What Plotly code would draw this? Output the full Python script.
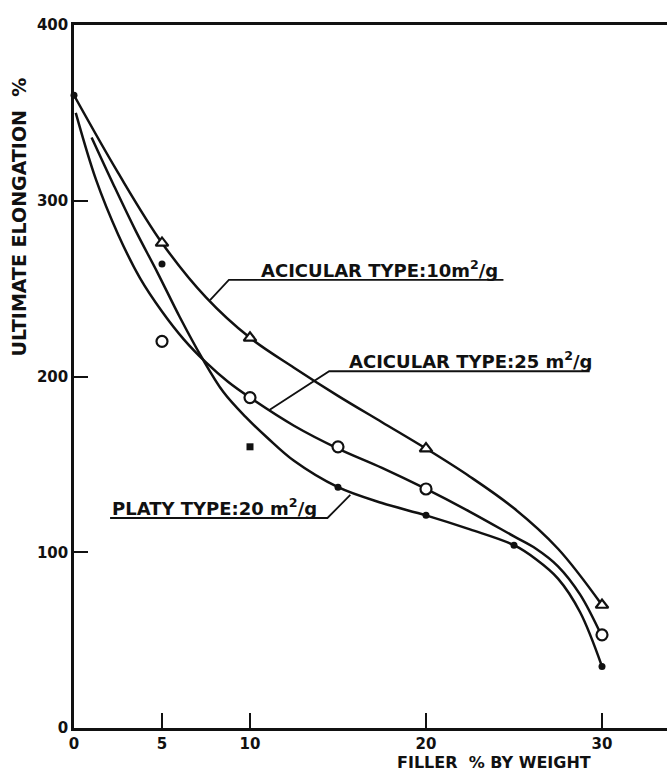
import plotly.graph_objects as go

# ---------------- data ----------------
# measured points
acicular10_x = [5, 10, 20, 30]
acicular10_y = [276, 222, 159, 70]

acicular25_x = [5, 10, 15, 20, 30]
acicular25_y = [220, 188, 160, 136, 53]

platy_x = [0, 5, 10, 15, 20, 25, 30]
platy_y = [360, 264, 160, 137, 121, 104, 35]
platy_symbols = ["circle", "circle", "square", "circle", "circle", "circle", "circle"]

# hand-drawn fitted curves (traced points)
curve10_x = [0, 2.5, 5, 7.5, 10, 12.5, 15, 17.5, 20, 22.5, 25, 27.5, 30]
curve10_y = [360, 316, 276, 245, 222, 205, 189, 174, 159, 143, 125, 102, 70]

curve25_x = [0.1, 1.25, 2.5, 3.75, 5, 6.25, 7.5, 8.75, 10, 12.5, 15, 17.5, 20,
             22.5, 25, 26.25, 27.5, 28.75, 30]
curve25_y = [350, 312, 281, 256, 237, 221, 208, 197, 188, 172, 159, 148, 136,
             123, 109, 102, 92, 76, 52]

curve_platy_x = [1.0, 2.25, 3.5, 4.75, 6, 7.25, 8.5, 9.75, 11, 12.5, 15, 17.5, 20,
                 22.5, 25, 26.25, 27.5, 28.75, 30]
curve_platy_y = [336, 309, 283, 259, 234, 211, 191, 177, 165, 152, 137, 128, 121,
                 113, 104, 96, 85, 66, 35]

x_tick_vals = [0, 5, 10, 20, 30]
y_tick_vals = [0, 100, 200, 300, 400]

label10_text = "ACICULAR TYPE:10m<sup>2</sup>/g"
label25_text = "ACICULAR TYPE:25 m<sup>2</sup>/g"
label_platy_text = "PLATY TYPE:20 m<sup>2</sup>/g"

# ---------------- layout constants ----------------
W, H = 667, 772
ML, MR, MT, MB = 74, 0, 25, 44
X_MAX = (W - ML - MR) / 17.6
INK = "#111111"
FONT = "DejaVu Sans"

# leader lines (underline + diagonal to curve), in axis units
leader10 = ([24.4, 8.8, 7.73], [255, 255, 243.5])
leader25 = ([29.3, 14.5, 11.1], [203, 203, 181])
leader_platy = ([2.05, 14.4, 15.7], [119.5, 119.5, 132.6])

fig = go.Figure()

for cx, cy in [(curve10_x, curve10_y), (curve25_x, curve25_y), (curve_platy_x, curve_platy_y)]:
    fig.add_trace(go.Scatter(x=cx, y=cy, mode="lines",
                             line=dict(color=INK, width=2.5, shape="spline", smoothing=1.0),
                             hoverinfo="skip", showlegend=False))

for lx, ly in [leader10, leader25, leader_platy]:
    fig.add_trace(go.Scatter(x=lx, y=ly, mode="lines",
                             line=dict(color=INK, width=1.8),
                             hoverinfo="skip", showlegend=False))

fig.add_trace(go.Scatter(x=acicular10_x, y=acicular10_y, mode="markers",
                         marker=dict(symbol="triangle-up", size=11, color="white",
                                     line=dict(color=INK, width=2.2)),
                         cliponaxis=False, showlegend=False))
fig.add_trace(go.Scatter(x=acicular25_x, y=acicular25_y, mode="markers",
                         marker=dict(symbol="circle", size=11, color="white",
                                     line=dict(color=INK, width=2.2)),
                         cliponaxis=False, showlegend=False))
fig.add_trace(go.Scatter(x=platy_x, y=platy_y, mode="markers",
                         marker=dict(symbol=platy_symbols, size=7, color=INK,
                                     line=dict(color=INK, width=0)),
                         cliponaxis=False, showlegend=False))

label_font = dict(family=FONT, size=18, color=INK, weight="bold")
fig.add_annotation(x=10.5, y=255, xref="x", yref="y", text=label10_text,
                   showarrow=False, xanchor="left", yanchor="bottom", yshift=-3, font=label_font)
fig.add_annotation(x=15.5, y=203, xref="x", yref="y", text=label25_text,
                   showarrow=False, xanchor="left", yanchor="bottom", yshift=-3, font=label_font)
fig.add_annotation(x=2.05, y=119.5, xref="x", yref="y", text=label_platy_text,
                   showarrow=False, xanchor="left", yanchor="bottom", yshift=-3, font=label_font)

# axis titles
fig.add_annotation(x=0, y=(728 - 217) / 703, xref="paper", yref="paper",
                   text="ULTIMATE ELONGATION\u00a0\u00a0%", textangle=-90,
                   showarrow=False, xanchor="center", yanchor="middle", xshift=-(ML - 18.5),
                   font=dict(family=FONT, size=19, color=INK, weight="bold"))
fig.add_annotation(x=(494 - ML) / (W - ML - MR), y=0, xref="paper", yref="paper",
                   text="FILLER\u00a0\u00a0% BY WEIGHT", showarrow=False,
                   xanchor="center", yanchor="middle", yshift=-34,
                   font=dict(family=FONT, size=16, color=INK, weight="bold"))

fig.update_layout(
    width=W, height=H,
    margin=dict(l=ML, r=MR, t=MT, b=MB),
    paper_bgcolor="white", plot_bgcolor="white",
    showlegend=False,
    xaxis=dict(range=[0, X_MAX], tickvals=x_tick_vals, ticktext=[str(v) for v in x_tick_vals],
               ticks="inside", ticklen=15, tickwidth=2, tickcolor=INK,
               showline=True, linewidth=2.5, linecolor=INK, mirror=True,
               showgrid=False, zeroline=False,
               tickfont=dict(family=FONT, size=15, color=INK, weight="bold")),
    yaxis=dict(range=[0, 400], tickvals=y_tick_vals, ticktext=[str(v) for v in y_tick_vals],
               ticks="inside", ticklen=14, tickwidth=2, tickcolor=INK,
               showline=True, linewidth=2.5, linecolor=INK,
               showgrid=False, zeroline=False,
               tickfont=dict(family=FONT, size=15, color=INK, weight="bold")),
)

fig.write_html("out.html")
